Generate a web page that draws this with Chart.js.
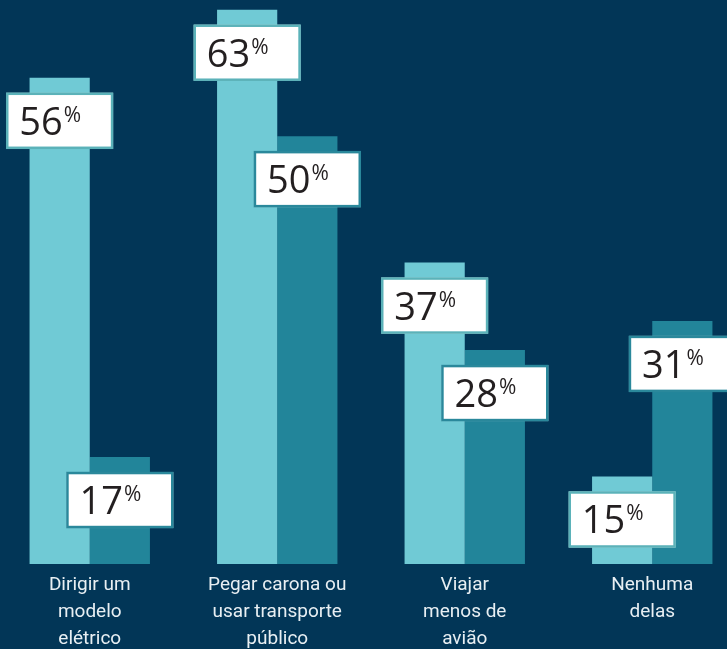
<!DOCTYPE html>
<html><head><meta charset="utf-8">
<script src="https://cdn.jsdelivr.net/npm/chart.js@4"></script>
<style>
html,body{margin:0;padding:0;background:#023657;overflow:hidden;width:727px;height:649px}
#wrap{position:relative;width:727px;height:649px;overflow:hidden;background:#023657}
canvas{position:absolute;left:-4px;top:0}
</style></head><body><div id="wrap"><canvas id="c" width="750" height="661"></canvas></div>
<script>
const categories = [["Dirigir um","modelo","elétrico"],["Pegar carona ou","usar transporte","público"],["Viajar","menos de","avião"],["Nenhuma","delas"]];
const lightValues = [56, 63, 37, 15];
const darkValues = [17, 50, 28, 31];
const valueSuffix = "%";

const boxPlugin = {
  id: 'valueBoxes',
  afterDatasetsDraw(chart) {
    const ctx = chart.ctx;
    const borders = ['#5bb2b9', '#2a889b'];
    chart.data.datasets.forEach((ds, di) => {
      const meta = chart.getDatasetMeta(di);
      meta.data.forEach((el, i) => {
        const num = String(ds.data[i]);
        ctx.save();
        ctx.font = '38px "Open Sans", sans-serif';
        const nw = ctx.measureText(num).width;
        ctx.font = '21px "Open Sans", sans-serif';
        const pw = ctx.measureText(valueSuffix).width;
        const w = 13 + nw + 1 + pw + 32;
        const h = 56;
        const top = el.y + 15;
        const left = el.x - w / 2;
        ctx.fillStyle = '#ffffff';
        ctx.fillRect(left, top, w, h);
        ctx.strokeStyle = borders[di];
        ctx.lineWidth = 2.5;
        ctx.strokeRect(left + 1, top + 1, w - 2, h - 2);
        ctx.fillStyle = '#231f20';
        ctx.textBaseline = 'alphabetic';
        ctx.textAlign = 'left';
        ctx.font = '38px "Open Sans", sans-serif';
        ctx.fillText(num, left + 13, top + 42);
        ctx.font = '21px "Open Sans", sans-serif';
        ctx.fillText(valueSuffix, left + 13 + nw + 1, top + 29);
        ctx.restore();
      });
    });
  }
};

new Chart(document.getElementById('c'), {
  type: 'bar',
  data: {
    labels: categories,
    datasets: [
      { data: lightValues, backgroundColor: '#70cad5', borderWidth: 0, categoryPercentage: 0.642, barPercentage: 1 },
      { data: darkValues, backgroundColor: '#22859a', borderWidth: 0, categoryPercentage: 0.642, barPercentage: 1 }
    ]
  },
  options: {
    responsive: false,
    animation: false,
    events: [],
    layout: { padding: 0 },
    plugins: { legend: { display: false }, tooltip: { enabled: false } },
    scales: {
      x: {
        grid: { display: false, drawTicks: false },
        border: { display: false },
        ticks: {
          color: '#e8eff3',
          font: { family: 'Roboto', size: 19, lineHeight: '27px' },
          padding: 8,
          maxRotation: 0,
          autoSkip: false
        }
      },
      y: { display: false, min: 6, max: 64 }
    }
  },
  plugins: [boxPlugin]
});
</script></body></html>
